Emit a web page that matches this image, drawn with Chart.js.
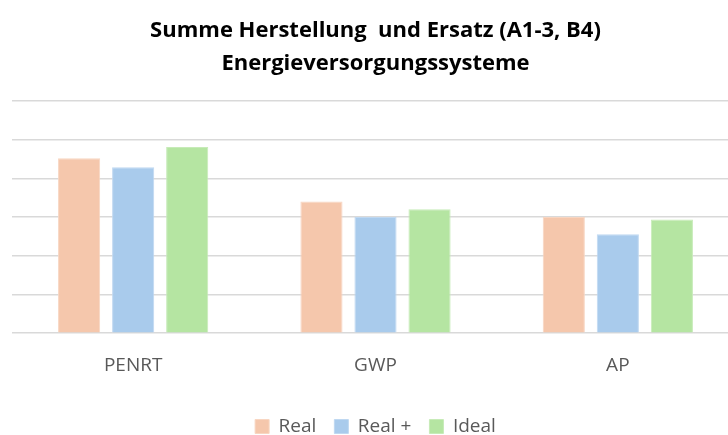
<!DOCTYPE html>
<html>
<head>
<meta charset="utf-8">
<script src="https://cdn.jsdelivr.net/npm/chart.js@4.4.1/dist/chart.umd.min.js"></script>
<style>
  html, body { margin: 0; padding: 0; background: #fff; overflow: hidden; }
  #wrap { width: 742px; height: 435px; }
</style>
</head>
<body>
<div id="wrap"><canvas id="summe"></canvas></div>
<script>
  // Kategorien und Werte
  const kategorien = ['PENRT', 'GWP', 'AP'];
  const werteReal = [4.52, 3.40, 3.00];
  const werteRealPlus = [4.29, 3.00, 2.56];
  const werteIdeal = [4.81, 3.20, 2.94];

  const grau = '#595959';

  const summe = new Chart(document.getElementById('summe'), {
    type: 'bar',
    data: {
      labels: kategorien,
      datasets: [
        { label: 'Real', data: werteReal, backgroundColor: '#F5C7AC', borderColor: '#F8D6C2', borderWidth: 1 },
        { label: 'Real +', data: werteRealPlus, backgroundColor: '#A9CBEC', borderColor: '#BFD8F1', borderWidth: 1 },
        { label: 'Ideal', data: werteIdeal, backgroundColor: '#B5E5A2', borderColor: '#C7EBB8', borderWidth: 1 }
      ]
    },
    options: {
      responsive: true,
      maintainAspectRatio: false,
      animation: false,
      layout: { padding: { left: 12, right: 3, top: 14, bottom: -11 } },
      datasets: {
        bar: { categoryPercentage: 0.669, barPercentage: 0.78 }
      },
      plugins: {
        title: {
          display: true,
          text: ['Summe Herstellung  und Ersatz (A1-3, B4)', 'Energieversorgungssysteme'],
          color: '#000',
          font: { family: 'Open Sans', size: 22, weight: 'bold', lineHeight: 1.5 },
          padding: { top: 0, bottom: 21 }
        },
        legend: {
          position: 'bottom',
          labels: {
            color: grau,
            boxWidth: 14,
            boxHeight: 14,
            padding: 18,
            font: { family: 'Open Sans', size: 19 }
          }
        },
        tooltip: { enabled: false }
      },
      scales: {
        x: {
          grid: { display: false },
          border: { display: false },
          ticks: { color: grau, font: { family: 'Open Sans', size: 19 }, padding: 13 },
          // etwas Luft zwischen Achsenbeschriftung und Legende
          afterFit: (axis) => { axis.height += 9; }
        },
        y: {
          min: 0,
          max: 6,
          ticks: { display: false, stepSize: 1 },
          border: { display: false },
          grid: { color: '#D9D9D9', lineWidth: 1.5, drawTicks: false }
        }
      }
    }
  });
</script>
</body>
</html>
